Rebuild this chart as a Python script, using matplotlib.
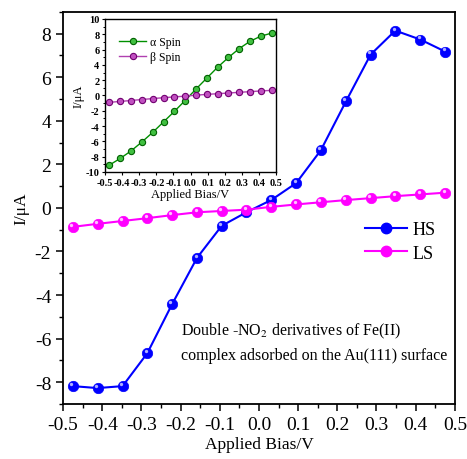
import numpy as np
import matplotlib
matplotlib.use("Agg")
import matplotlib.pyplot as plt
from matplotlib.ticker import MultipleLocator
from matplotlib.lines import Line2D
import matplotlib.transforms as mtransforms

plt.rcParams['font.family'] = ['Liberation Serif', 'DejaVu Serif']
plt.rcParams['mathtext.fontset'] = 'stix'
plt.rcParams['axes.unicode_minus'] = False

bias = [-0.475, -0.412, -0.348, -0.285, -0.222, -0.158, -0.095, -0.032,
        0.032, 0.095, 0.158, 0.222, 0.285, 0.348, 0.412, 0.475]
hs = [-8.18, -8.27, -8.18, -6.67, -4.43, -2.29, -0.82, -0.2,
      0.37, 1.14, 2.65, 4.89, 7.04, 8.14, 7.73, 7.18]
ls = [-0.87, -0.73, -0.6, -0.47, -0.33, -0.2, -0.14, -0.08,
      0.05, 0.16, 0.26, 0.36, 0.45, 0.54, 0.62, 0.7]
alpha_spin = [-9.1, -8.24, -7.25, -6.09, -4.84, -3.46, -2.09, -0.67,
              0.84, 2.26, 3.68, 4.97, 6.13, 7.08, 7.76, 8.15]
beta_spin = [-0.9, -0.78, -0.66, -0.53, -0.41, -0.29, -0.19, -0.09,
             0.04, 0.14, 0.23, 0.32, 0.41, 0.5, 0.59, 0.67]
xticks = [-0.5, -0.4, -0.3, -0.2, -0.1, 0.0, 0.1, 0.2, 0.3, 0.4, 0.5]

fig = plt.figure(figsize=(4.67, 4.6), dpi=100)
ax = fig.add_axes([0.135, 0.1196, 0.839, 0.8524])

def sphere(axx, x, y, col, hi, label):
    axx.plot(x, y, '-', color=col, lw=1.5, marker='o', ms=7.5, mfc=col, mec=col, mew=0.5, label=label)
    tr = mtransforms.offset_copy(axx.transData, fig=fig, x=-1.1, y=1.5, units='points')
    axx.plot(x, y, ls='none', marker='o', ms=2.4, mfc=hi, mec='none', transform=tr)

sphere(ax, bias, hs, '#0000ff', '#b0b0ff', 'HS')
sphere(ax, bias, ls, '#ff00ff', '#ffc0ff', 'LS')

ax.set_xlim(-0.5, 0.5)
ax.set_ylim(-9, 9)
ax.xaxis.set_minor_locator(MultipleLocator(0.05))
ax.yaxis.set_minor_locator(MultipleLocator(1))
ax.set_yticks([-8, -6, -4, -2, 0, 2, 4, 6, 8])
ax.set_xticks(xticks)
ax.set_xticklabels(['%.1f' % v for v in xticks])
ax.tick_params(which='major', direction='out', length=5, width=1.1, labelsize=14)
ax.tick_params(which='minor', direction='out', length=3, width=1.0)
for s in ax.spines.values():
    s.set_linewidth(1.3)
ax.set_xlabel('Applied Bias/V', fontsize=12.5, labelpad=2)
ax.set_ylabel('I/μA', fontsize=12.5, labelpad=4)

h_hs = Line2D([], [], color='#0000ff', lw=1.5, marker='o', ms=7.5)
h_ls = Line2D([], [], color='#ff00ff', lw=1.5, marker='o', ms=7.5)
ax.legend([h_hs, h_ls], ['HS', 'LS'], loc='upper left', bbox_to_anchor=(0.73, 0.507),
          frameon=False, fontsize=13, handlelength=2.3, handletextpad=0.3, labelspacing=0.35)

ax.text(0.3, 0.187, 'Double -NO$_2$ derivatives of Fe(II)', transform=ax.transAxes,
        fontsize=11.5, ha='left', va='center')
ax.text(0.3, 0.124, 'complex adsorbed on the Au(111) surface', transform=ax.transAxes,
        fontsize=11.5, ha='left', va='center')

# inset
ins = fig.add_axes([0.225, 0.624, 0.366, 0.3326])
ins.plot(bias, alpha_spin, '-', color='#009000', lw=1.0, marker='o', ms=4.5,
         mfc='#40c040', mec='#006000', mew=0.8, label='α Spin')
ins.plot(bias, beta_spin, '-', color='#b040b0', lw=1.0, marker='o', ms=4.5,
         mfc='#c050c0', mec='#700070', mew=0.8, label='β Spin')
ins.set_xlim(-0.5, 0.5)
ins.set_ylim(-10, 10)
ins.yaxis.set_major_locator(MultipleLocator(2))
ins.yaxis.set_minor_locator(MultipleLocator(1))
ins.set_xticks(xticks)
ins.set_xticklabels(['%.1f' % v for v in xticks])
ins.tick_params(which='major', direction='out', length=2.5, width=0.8, labelsize=7.5, pad=1.5)
ins.tick_params(which='minor', direction='out', length=1.5, width=0.7)
for lab in ins.get_xticklabels() + ins.get_yticklabels():
    lab.set_fontweight('bold')
for s in ins.spines.values():
    s.set_linewidth(1.0)
ins.set_xlabel('Applied Bias/V', fontsize=9, labelpad=1)
ins.set_ylabel('I/μA', fontsize=9, labelpad=1)
ins.legend(loc='upper left', bbox_to_anchor=(0.02, 0.96), frameon=False, fontsize=8.5,
           handlelength=2.3, handletextpad=0.3, labelspacing=0.3)

fig.savefig('out.png', dpi=100)
